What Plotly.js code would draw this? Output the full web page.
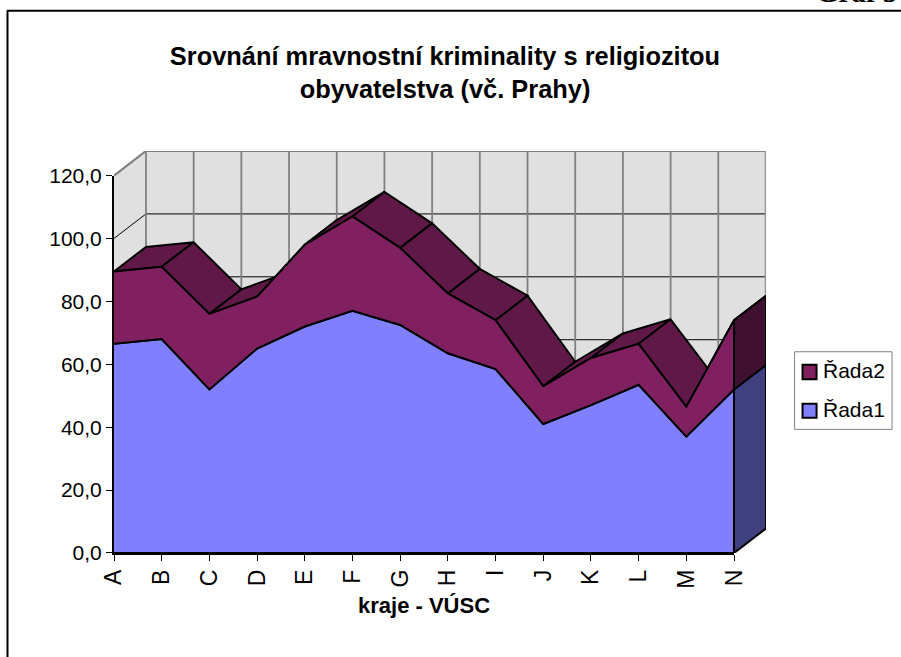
<!DOCTYPE html>
<html>
<head>
<meta charset="utf-8">
<script src="https://cdn.plot.ly/plotly-3.0.1.min.js"></script>
<style>html,body{margin:0;padding:0;background:#fff;overflow:hidden}#c{width:901px;height:657px}</style>
</head>
<body>
<div id="c"></div>
<script>
var categories = ['A','B','C','D','E','F','G','H','I','J','K','L','M','N'];
var rada1 = [66.5,68,52,65,72,77,72.5,63.5,58.5,41,47,53.5,37,52];
var rada2 = [23,23,24,16.5,26,30,24.5,19,15.5,12,15,13,9.5,22];
var seriesNames = ['Řada2','Řada1'];
var yTicks = [0,20,40,60,80,100,120];
var yTickLabels = ['0,0','20,0','40,0','60,0','80,0','100,0','120,0'];

var depthX = 0.67, depthY = 7.8;
var idx = categories.map(function(_, i){ return i; });
var last = idx.length - 1;
var total = rada1.map(function(v, i){ return v + rada2[i]; });
var W = 901, H = 657, L = 114, N = 734, Y120 = 176, B = 553;
var R = N + depthX * (N - L) / last;
var T = Y120 - depthY * (B - Y120) / 120;
var traces = [];
function poly(x, y, fill, lineColor, lineWidth, name){
  traces.push({type:'scatter', mode:'lines', x:x, y:y, fill:'toself', fillcolor:fill, name:name,
    line:{color:lineColor, width:lineWidth, shape:'linear'}, showlegend:false, hoverinfo:'skip'});
}
function seg(x, y, color, width){
  traces.push({type:'scatter', mode:'lines', x:x, y:y, line:{color:color, width:width}, showlegend:false, hoverinfo:'skip'});
}
// walls
poly([0, depthX, last+depthX, last+depthX, 0, 0], [120, 120+depthY, 120+depthY, depthY, 0, 120], '#e0e0e0', 'rgba(0,0,0,0)', 0);
// horizontal gridlines on wall
yTicks.forEach(function(v){
  var c = v === 120 ? '#808080' : '#000000', w = v === 120 ? 2.2 : 1;
  seg([0, depthX, last+depthX], [v, v+depthY, v+depthY], c, w);
});
// vertical gridlines on back wall
idx.forEach(function(i){ seg([i+depthX, i+depthX], [depthY, 120+depthY], '#808080', 1.8); });
seg([last+depthX, last+depthX], [depthY, 120+depthY], '#909090', 2.5);
// top faces of the stack
for (var i = 0; i < last; i++) {
  poly([i, i+1, i+1+depthX, i+depthX, i], [total[i], total[i+1], total[i+1]+depthY, total[i]+depthY, total[i]], '#601848', '#000000', 2);
}
// front faces
poly(idx.concat(idx.slice().reverse()), rada1.concat(new Array(idx.length).fill(0)), '#8080ff', '#000000', 2, seriesNames[1]);
poly(idx.concat(idx.slice().reverse()), total.concat(rada1.slice().reverse()), '#802060', '#000000', 2, seriesNames[0]);
// right side faces
poly([last, last+depthX, last+depthX, last, last], [0, depthY, rada1[last]+depthY, rada1[last], 0], '#404080', '#000000', 2);
poly([last, last+depthX, last+depthX, last, last], [rada1[last], rada1[last]+depthY, total[last]+depthY, total[last], rada1[last]], '#401030', '#000000', 2);
// carrier for the front axes
traces.push({type:'scatter', mode:'none', x:idx, y:total, xaxis:'x2', yaxis:'y2', showlegend:false, hoverinfo:'skip'});

var font = 'Liberation Sans, Arial, sans-serif';
function px(v){ return (v - L) / (R - L); }
function py(v){ return (B - v) / (B - T); }
function box(x0,y0,x1,y1,fill,line,w){
  return {type:'rect', xref:'paper', yref:'paper', x0:px(x0), x1:px(x1), y0:py(y0), y1:py(y1), fillcolor:fill, line:{color:line, width:w}, layer:'above'};
}
function label(text,x,y){
  return {text:text, xref:'paper', yref:'paper', x:px(x), y:py(y), xanchor:'left', yanchor:'middle', showarrow:false,
    font:{family:font, size:21, color:'#000'}, borderpad:0, borderwidth:0};
}
var layout = {
  width:W, height:H, paper_bgcolor:'#fff', plot_bgcolor:'rgba(0,0,0,0)',
  margin:{l:L, r:W-R, t:T, b:H-B, pad:0},
  font:{family:font, color:'#000', size:21},
  showlegend:false,
  title:{text:'<b>Srovnání mravnostní kriminality s religiozitou<br>obyvatelstva (vč. Prahy)</b>', font:{family:font, size:25.4, color:'#000'},
    x:445/W, xref:'container', xanchor:'center', y:1-65/H, yref:'container', yanchor:'top'},
  xaxis:{range:[0,last+depthX], domain:[0,1], visible:false, fixedrange:true},
  yaxis:{range:[0,120+depthY], domain:[0,1], visible:false, fixedrange:true},
  xaxis2:{range:[0,last], domain:[0,px(N)], anchor:'y2', tickmode:'array', tickvals:idx, ticktext:categories, tickangle:-90,
    showgrid:false, zeroline:false, showline:true, linecolor:'#000', linewidth:1.5, ticks:'outside', ticklen:6, tickwidth:1, tickcolor:'#000',
    tickfont:{family:font, size:23, color:'#000'}, automargin:false,
    title:{text:'<b>kraje - VÚSC</b>', font:{family:font, size:22, color:'#000'}, standoff:9}},
  yaxis2:{range:[0,120], domain:[0,py(Y120)], anchor:'x2', tickmode:'array', tickvals:yTicks, ticktext:yTickLabels, automargin:false,
    showgrid:false, zeroline:false, showline:true, linecolor:'#000', linewidth:2, ticks:'outside', ticklen:6, tickwidth:1, tickcolor:'#000',
    tickfont:{family:font, size:21, color:'#000'}},
  shapes:[
    {type:'line', xref:'paper', yref:'paper', x0:px(7), x1:px(901), y0:py(11.5), y1:py(11.5), line:{color:'#000', width:2}},
    {type:'line', xref:'paper', yref:'paper', x0:px(7.5), x1:px(7.5), y0:py(11), y1:py(657), line:{color:'#000', width:2}},
    box(794.5,352,892,429.5,'#fff','#808080',1),
    box(802.5,365,816.5,379.5,'#802060','#000',2),
    box(802.5,404,816.5,418,'#8080ff','#000',2)
  ],
  annotations:[
    {text:'<b>Graf 5</b>', xref:'paper', yref:'paper', x:px(898), y:py(10), xanchor:'right', yanchor:'bottom', showarrow:false,
     font:{family:'Liberation Serif, Times New Roman, serif', size:29, color:'#000'}, borderpad:0},
    label(seriesNames[0],823,371),
    label(seriesNames[1],823,410)
  ]
};
Plotly.newPlot('c', traces, layout, {displayModeBar:false, staticPlot:true});
</script>
</body>
</html>
